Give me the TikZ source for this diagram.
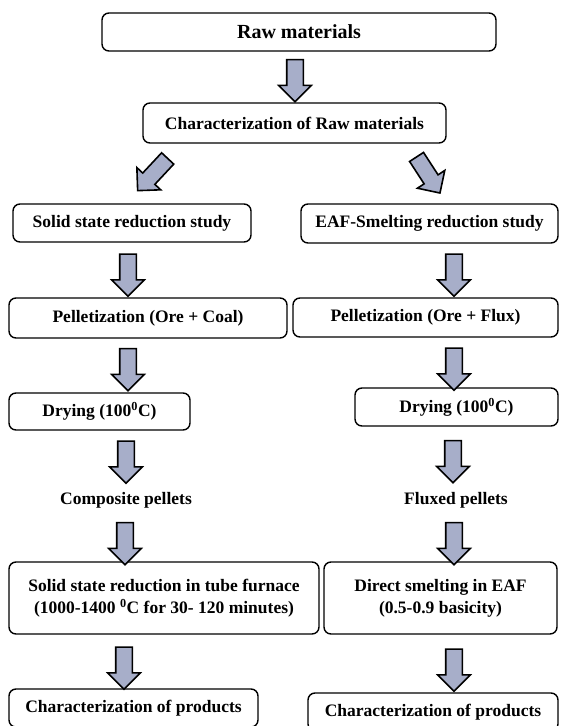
\documentclass[tikz,border=0pt]{standalone}
\usepackage{fontspec}
\setmainfont{Liberation Serif}
\usetikzlibrary{shapes, shapes.arrows, positioning}
\definecolor{flowfill}{RGB}{167,174,201}

\begin{document}
\begin{tikzpicture}[x=1pt, y=-1pt, font=\bfseries\fontsize{17.5}{22}\selectfont,
    box/.style={draw, line width=1.4pt, rounded corners=7pt, align=center, inner sep=0pt},
    flow/.style={draw, line width=1.6pt, fill=flowfill, single arrow, single arrow head extend=8pt,
        inner xsep=0pt, inner ysep=7.5pt, text height=0pt, text depth=0pt, minimum height=42pt}]

    \useasboundingbox (0,0) rectangle (560,726);

    \node[box, minimum width=394pt, minimum height=38pt, font=\bfseries\fontsize{20}{24}\selectfont] (raw) at (299,32) {Raw materials};
    \node[box, minimum width=303pt, minimum height=40pt] (char-raw) at (294.5,123) {Characterization of Raw materials};
    \node[flow, rotate=-90] (flow-raw) at (295,76.5) {};

    \node[flow, rotate=-133, minimum height=44pt] (flow-split-l) at (155.5,171.5) {};
    \node[flow, rotate=-57, minimum height=43pt] (flow-split-r) at (426,171.5) {};

    \node[box, minimum width=238pt, minimum height=38pt] (ssr-study) at (132,223) {Solid state reduction study};
    \node[box, minimum width=257pt, minimum height=39pt] (eaf-study) at (429.5,223.5) {EAF-Smelting reduction study};

    \node[box, minimum width=278pt, minimum height=40pt] (ssr-pellet) at (148,318) {Pelletization (Ore + Coal)};
    \node[box, minimum width=265pt, minimum height=39pt] (eaf-pellet) at (425.5,317.5) {Pelletization (Ore + Flux)};

    \node[box, minimum width=181pt, minimum height=37pt] (ssr-dry) at (99.5,411.5) {Drying (100\textsuperscript{0}C)};
    \node[box, minimum width=203pt, minimum height=38pt] (eaf-dry) at (456.5,407) {Drying (100\textsuperscript{0}C)};

    \node (ssr-comp) at (126,500) {Composite pellets};
    \node (eaf-flux) at (456,500) {Fluxed pellets};

    \node[box, minimum width=310pt, minimum height=72pt] (ssr-red) at (164,598) {Solid state reduction in tube furnace\\(1000-1400 \textsuperscript{0}C for 30- 120 minutes)};
    \node[box, minimum width=233pt, minimum height=72pt] (eaf-red) at (440.5,598) {Direct smelting in EAF\\(0.5-0.9 basicity)};

    \node[box, minimum width=249pt, minimum height=38pt] (ssr-prod) at (133.5,708) {Characterization of products};
    \node[box, minimum width=250pt, minimum height=38pt] (eaf-prod) at (433,712) {Characterization of products};

    \node[flow, rotate=-90] (ssr-flow1) at (128,271) {};
    \node[flow, rotate=-90] (eaf-flow1) at (454,271) {};
    \node[flow, rotate=-90] (ssr-flow2) at (128,365.5) {};
    \node[flow, rotate=-90] (eaf-flow2) at (454,365) {};
    \node[flow, rotate=-90] (ssr-flow3) at (126,458) {};
    \node[flow, rotate=-90] (eaf-flow3) at (453,457.5) {};
    \node[flow, rotate=-90] (ssr-flow4) at (125,539.5) {};
    \node[flow, rotate=-90] (eaf-flow4) at (454,539.5) {};
    \node[flow, rotate=-90] (ssr-flow5) at (124,664) {};
    \node[flow, rotate=-90] (eaf-flow5) at (454,666) {};

\end{tikzpicture}
\end{document}
